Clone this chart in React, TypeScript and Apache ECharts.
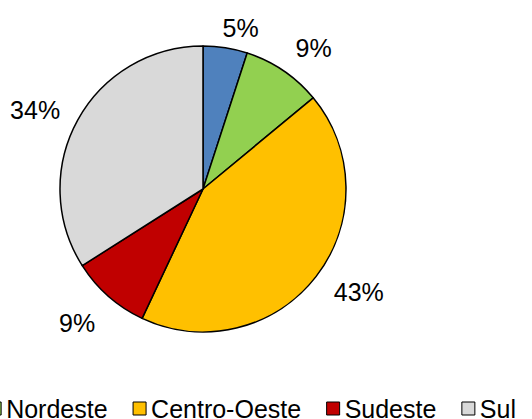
import React, { useEffect, useRef } from "react";
import * as echarts from "echarts";

const categories = ["Norte", "Nordeste", "Centro-Oeste", "Sudeste", "Sul"];
const values = [5, 9, 43, 9, 34];
const colors = ["#4F81BD", "#92D050", "#FFC000", "#C00000", "#D9D9D9"];
const labelShifts = [[-11, 0], [-4, -6], [-3, 3], [5, 12], [5, 0]];

export default function App() {
  const ref = useRef<HTMLDivElement>(null);
  useEffect(() => {
    const chart = echarts.init(ref.current!, null, { renderer: "svg" });
    chart.setOption({
      animation: false,
      textStyle: { fontFamily: "Liberation Sans, Arial, sans-serif" },
      legend: {
        orient: "horizontal",
        left: -122,
        width: 900,
        top: 391,
        icon: "rect",
        itemWidth: 13,
        itemHeight: 13,
        itemGap: 25,
        textStyle: { fontSize: 25, color: "#000", fontFamily: "Liberation Sans, Arial, sans-serif" },
        itemStyle: { borderColor: "#000", borderWidth: 1 },
        data: categories,
      },
      series: [
        {
          type: "pie",
          center: [203, 189],
          radius: 143,
          startAngle: 90,
          clockwise: true,
          avoidLabelOverlap: false,
          data: categories.map((c, i) => ({
            name: c,
            value: values[i],
            itemStyle: { color: colors[i] },
            label: { offset: labelShifts[i] },
          })),
          itemStyle: { borderColor: "#000", borderWidth: 1.5 },
          label: {
            show: true,
            position: "outside",
            formatter: "{c}%",
            fontSize: 25,
            color: "#000",
            overflow: "none",
            fontFamily: "Liberation Sans, Arial, sans-serif",
          },
          labelLine: { show: false, length: 20, length2: 0 },
        },
      ],
    });
    return () => chart.dispose();
  }, []);
  return <div ref={ref} style={{ width: 532, height: 419, position: "absolute", left: 0, top: 0 }} />;
}
